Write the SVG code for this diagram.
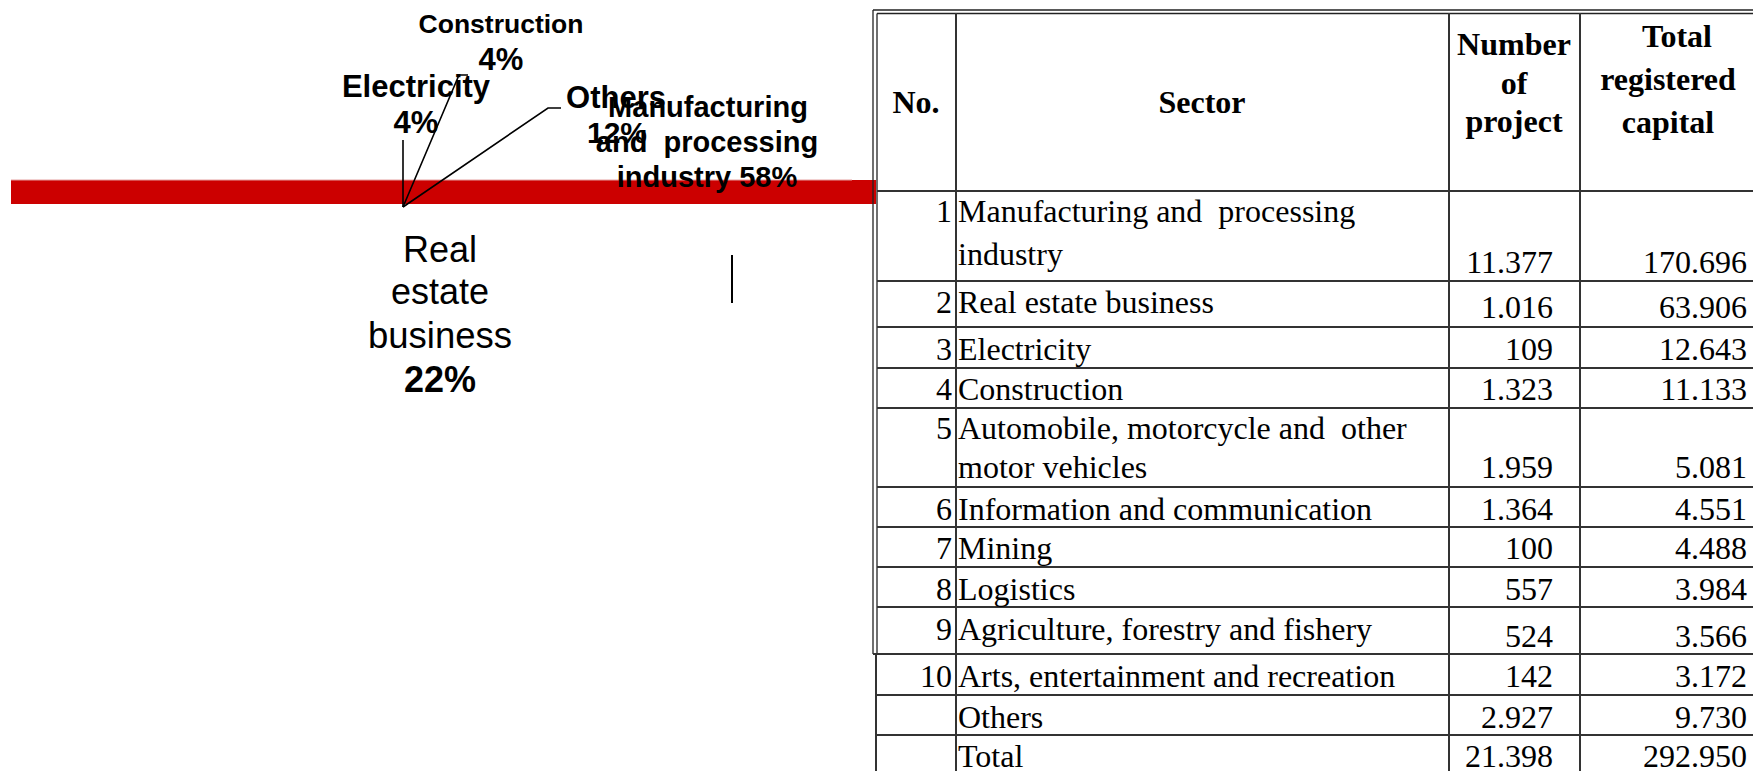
<svg xmlns="http://www.w3.org/2000/svg" width="1753" height="771" viewBox="0 0 1753 771">
<style>
.lb{font-family:"Liberation Sans",Arial,sans-serif;font-weight:bold;fill:#000;text-anchor:middle}
.lr{font-family:"Liberation Sans",Arial,sans-serif;fill:#000;text-anchor:middle}
.tb{font-family:"Liberation Serif","Times New Roman",serif;font-size:32px;fill:#000;white-space:pre}
.th{font-family:"Liberation Serif","Times New Roman",serif;font-size:32px;font-weight:bold;fill:#000;text-anchor:middle}
.r{text-anchor:end}
.ld{stroke:#000;stroke-width:1.6;fill:none}
.gl{stroke:#333;stroke-width:2}
.bl{stroke:#222;stroke-width:1.3}
</style>
<rect x="0" y="0" width="1753" height="771" fill="#fff"/>

<g id="bar">
<rect x="11" y="180" width="865" height="24" fill="#CC0000"/>
<line x1="11" y1="180" x2="852" y2="180" stroke="#e4a0a0" stroke-width="1"/>
</g>

<g id="connectors">
<polyline class="ld" points="403,140 403,207"/>
<polyline class="ld" points="403,207 459,75 468,75"/>
<polyline class="ld" points="403,207 548,108 561,108"/>
<line x1="732" y1="255" x2="732" y2="303" stroke="#000" stroke-width="2"/>
</g>

<g id="label-construction">
<text class="lb" x="501" y="33" font-size="26.5">Construction</text>
<text class="lb" x="501" y="70" font-size="31">4%</text>
</g>
<g id="label-electricity">
<text class="lb" x="416" y="97" font-size="31">Electricity</text>
<text class="lb" x="416" y="133" font-size="31">4%</text>
</g>
<g id="label-others">
<text class="lb" x="616" y="108" font-size="31">Others</text>
<text class="lb" x="617" y="143" font-size="30">12%</text>
</g>
<g id="label-manufacturing">
<text class="lb" x="708" y="117" font-size="29">Manufacturing</text>
<text class="lb" x="707" y="152" font-size="29" style="white-space:pre">and  processing</text>
<text class="lb" x="707" y="187" font-size="29">industry 58%</text>
</g>
<g id="label-realestate">
<text class="lr" x="440" y="262" font-size="36">Real</text>
<text class="lr" x="440" y="304" font-size="36">estate</text>
<text class="lr" x="440" y="348" font-size="36.5">business</text>
<text class="lb" x="440" y="392" font-size="36">22%</text>
</g>

<g id="table">
<g id="table-lines">
<line class="bl" x1="873" y1="10" x2="1753" y2="10"/>
<line class="bl" x1="877" y1="13.5" x2="1753" y2="13.5"/>
<line class="bl" x1="873" y1="10" x2="873" y2="654"/>
<line class="bl" x1="877" y1="13.5" x2="877" y2="654"/>
<line class="gl" x1="876" y1="654" x2="876" y2="771"/>
<line class="gl" x1="956" y1="13" x2="956" y2="771"/>
<line class="gl" x1="1449" y1="13" x2="1449" y2="771"/>
<line class="gl" x1="1580" y1="13" x2="1580" y2="771"/>
<line class="gl" x1="877" y1="191" x2="1753" y2="191"/>
<line class="gl" x1="877" y1="281" x2="1753" y2="281"/>
<line class="gl" x1="877" y1="327" x2="1753" y2="327"/>
<line class="gl" x1="877" y1="368" x2="1753" y2="368"/>
<line class="gl" x1="877" y1="408" x2="1753" y2="408"/>
<line class="gl" x1="877" y1="487" x2="1753" y2="487"/>
<line class="gl" x1="877" y1="527" x2="1753" y2="527"/>
<line class="gl" x1="877" y1="567" x2="1753" y2="567"/>
<line class="gl" x1="877" y1="607" x2="1753" y2="607"/>
<line class="gl" x1="873" y1="654" x2="1753" y2="654"/>
<line class="gl" x1="876" y1="695" x2="1753" y2="695"/>
<line class="gl" x1="876" y1="735" x2="1753" y2="735"/>
</g>
<g id="table-header">
<text class="th" x="916" y="113">No.</text>
<text class="th" x="1202" y="113">Sector</text>
<text class="th" x="1514" y="55">Number</text>
<text class="th" x="1514" y="94">of</text>
<text class="th" x="1514" y="132">project</text>
<text class="th" x="1677" y="47">Total</text>
<text class="th" x="1668" y="90">registered</text>
<text class="th" x="1668" y="133">capital</text>
</g>
<g id="table-body">
<text class="tb r" x="952" y="222">1</text>
<text class="tb" x="958" y="222">Manufacturing and  processing</text>
<text class="tb" x="958" y="265">industry</text>
<text class="tb r" x="1553" y="273">11.377</text>
<text class="tb r" x="1747" y="273">170.696</text>

<text class="tb r" x="952" y="313">2</text>
<text class="tb" x="958" y="313">Real estate business</text>
<text class="tb r" x="1553" y="318">1.016</text>
<text class="tb r" x="1747" y="318">63.906</text>

<text class="tb r" x="952" y="360">3</text>
<text class="tb" x="958" y="360">Electricity</text>
<text class="tb r" x="1553" y="360">109</text>
<text class="tb r" x="1747" y="360">12.643</text>

<text class="tb r" x="952" y="400">4</text>
<text class="tb" x="958" y="400">Construction</text>
<text class="tb r" x="1553" y="400">1.323</text>
<text class="tb r" x="1747" y="400">11.133</text>

<text class="tb r" x="952" y="439">5</text>
<text class="tb" x="958" y="439">Automobile, motorcycle and  other</text>
<text class="tb" x="958" y="478">motor vehicles</text>
<text class="tb r" x="1553" y="478">1.959</text>
<text class="tb r" x="1747" y="478">5.081</text>

<text class="tb r" x="952" y="520">6</text>
<text class="tb" x="958" y="520">Information and communication</text>
<text class="tb r" x="1553" y="520">1.364</text>
<text class="tb r" x="1747" y="520">4.551</text>

<text class="tb r" x="952" y="559">7</text>
<text class="tb" x="958" y="559">Mining</text>
<text class="tb r" x="1553" y="559">100</text>
<text class="tb r" x="1747" y="559">4.488</text>

<text class="tb r" x="952" y="600">8</text>
<text class="tb" x="958" y="600">Logistics</text>
<text class="tb r" x="1553" y="600">557</text>
<text class="tb r" x="1747" y="600">3.984</text>

<text class="tb r" x="952" y="640">9</text>
<text class="tb" x="958" y="640">Agriculture, forestry and fishery</text>
<text class="tb r" x="1553" y="647">524</text>
<text class="tb r" x="1747" y="647">3.566</text>

<text class="tb r" x="952" y="687">10</text>
<text class="tb" x="958" y="687">Arts, entertainment and recreation</text>
<text class="tb r" x="1553" y="687">142</text>
<text class="tb r" x="1747" y="687">3.172</text>

<text class="tb" x="958" y="728">Others</text>
<text class="tb r" x="1553" y="728">2.927</text>
<text class="tb r" x="1747" y="728">9.730</text>

<text class="tb" x="958" y="767">Total</text>
<text class="tb r" x="1553" y="767">21.398</text>
<text class="tb r" x="1747" y="767">292.950</text>
</g>
</g>
</svg>
